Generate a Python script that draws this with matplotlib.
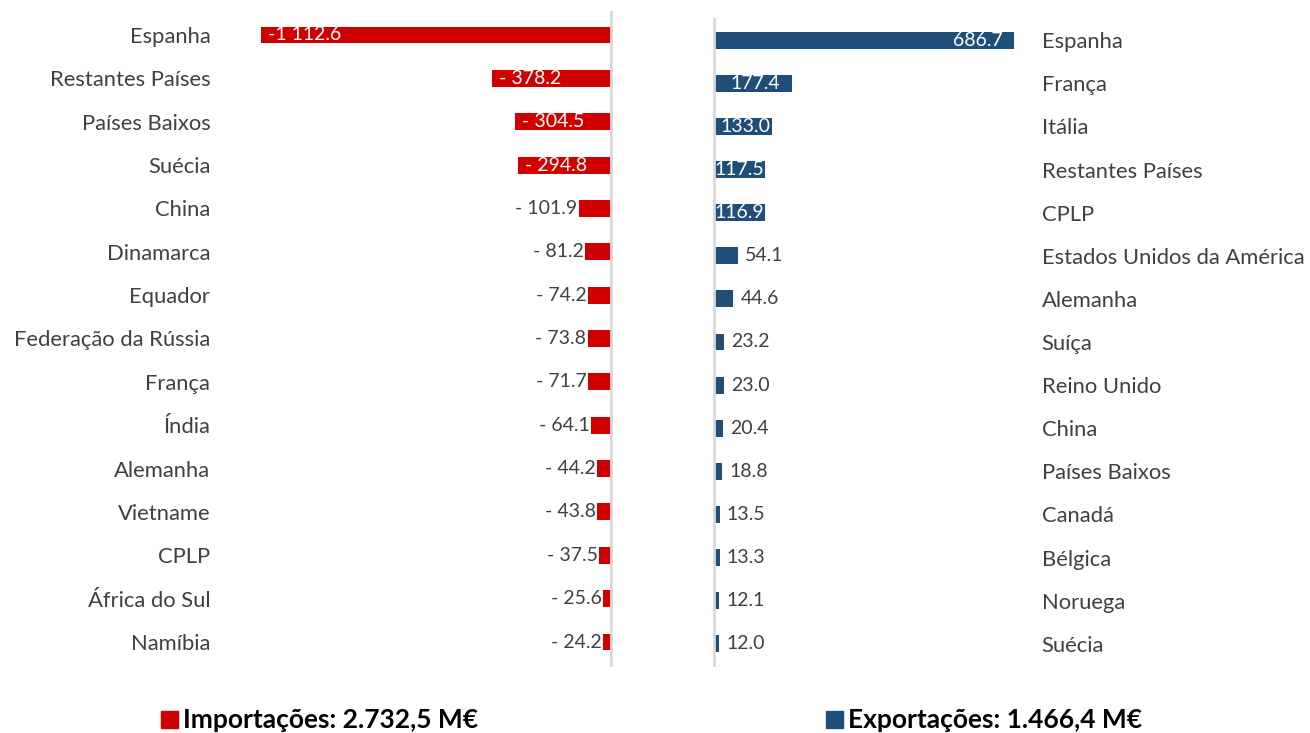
import matplotlib.pyplot as plt
from matplotlib.patches import Rectangle

plt.rcParams['font.family'] = ['Lato', 'DejaVu Sans']

imp_countries = ['Espanha', 'Restantes Países', 'Países Baixos', 'Suécia', 'China',
                 'Dinamarca', 'Equador', 'Federação da Rússia', 'França', 'Índia',
                 'Alemanha', 'Vietname', 'CPLP', 'África do Sul', 'Namíbia']
imp_values = [-1112.6, -378.2, -304.5, -294.8, -101.9, -81.2, -74.2, -73.8,
              -71.7, -64.1, -44.2, -43.8, -37.5, -25.6, -24.2]

exp_countries = ['Espanha', 'França', 'Itália', 'Restantes Países', 'CPLP',
                 'Estados Unidos da América', 'Alemanha', 'Suíça', 'Reino Unido',
                 'China', 'Países Baixos', 'Canadá', 'Bélgica', 'Noruega', 'Suécia']
exp_values = [686.7, 177.4, 133.0, 117.5, 116.9, 54.1, 44.6, 23.2, 23.0,
              20.4, 18.8, 13.5, 13.3, 12.1, 12.0]

imp_title = 'Importações: 2.732,5 M€'
exp_title = 'Exportações: 1.466,4 M€'

RED = '#D00000'
BLUE = '#1F4E79'
TXT = '#404040'
LINE = '#D9D9D9'

W, H = 1310, 733
fig = plt.figure(figsize=(W / 100, H / 100), dpi=100)


def px_axes(x0, y0, x1, y1):
    # pixel box (top-left origin) -> figure axes
    return fig.add_axes([x0 / W, 1 - y1 / H, (x1 - x0) / W, (y1 - y0) / H])


def fmt_neg(v):
    a = abs(v)
    if a >= 1000:
        s = f'{a:,.1f}'.replace(',', ' ')
        return '-' + s
    return f'- {a:.1f}'


# ---- imports (left) ----
axl = px_axes(261, 12, 611, 665)
ypos = list(range(len(imp_values)))
axl.barh(ypos, imp_values, height=0.39, color=RED)
axl.set_xlim(-1112.6, 0)
axl.set_ylim(14.53, -0.53)
axl.set_yticks(ypos)
axl.set_yticklabels(imp_countries)
axl.tick_params(axis='y', length=0, pad=36.5, labelsize=15.8, labelcolor=TXT)
axl.set_xticks([])
for s in ['left', 'top', 'bottom']:
    axl.spines[s].set_visible(False)
axl.spines['right'].set_color(LINE)
axl.spines['right'].set_linewidth(2)
for y, v in zip(ypos, imp_values):
    if abs(v) > 200:
        axl.annotate(fmt_neg(v), (v, y), xytext=(5, 0), textcoords='offset points',
                     ha='left', va='center', fontsize=14, color='white')
    else:
        axl.annotate(fmt_neg(v), (v, y), xytext=(-1, 0), textcoords='offset points',
                     ha='right', va='center', fontsize=14, color=TXT)

# ---- exports (right) ----
axr = px_axes(714, 19, 1014, 665)
ypos = list(range(len(exp_values)))
axr.barh(ypos, exp_values, height=0.39, color=BLUE)
axr.set_xlim(0, 686.7)
axr.set_ylim(14.49, -0.49)
axr.yaxis.tick_right()
axr.set_yticks(ypos)
axr.set_yticklabels(exp_countries)
axr.tick_params(axis='y', length=0, pad=20, labelsize=15.8, labelcolor=TXT)
axr.set_xticks([])
for s in ['right', 'top', 'bottom']:
    axr.spines[s].set_visible(False)
axr.spines['left'].set_color(LINE)
axr.spines['left'].set_linewidth(2)
for y, v in zip(ypos, exp_values):
    if v > 100:
        off = -8 if v > 150 else -1
        axr.annotate(f'{v:.1f}', (v, y), xytext=(off, 0), textcoords='offset points',
                     ha='right', va='center', fontsize=14, color='white')
    else:
        axr.annotate(f'{v:.1f}', (v, y), xytext=(5, 0), textcoords='offset points',
                     ha='left', va='center', fontsize=14, color=TXT)

# ---- legend-like titles ----
for x_sq, col, label in [(161, RED, imp_title), (826, BLUE, exp_title)]:
    fig.add_artist(Rectangle((x_sq / W, 1 - 728 / H), 17 / W, 17 / H,
                             transform=fig.transFigure, color=col))
    fig.text((x_sq + 22) / W, 1 - 720 / H, label, ha='left', va='center',
             fontsize=19, fontweight='bold', color='black')

fig.savefig('out.png', dpi=100)
